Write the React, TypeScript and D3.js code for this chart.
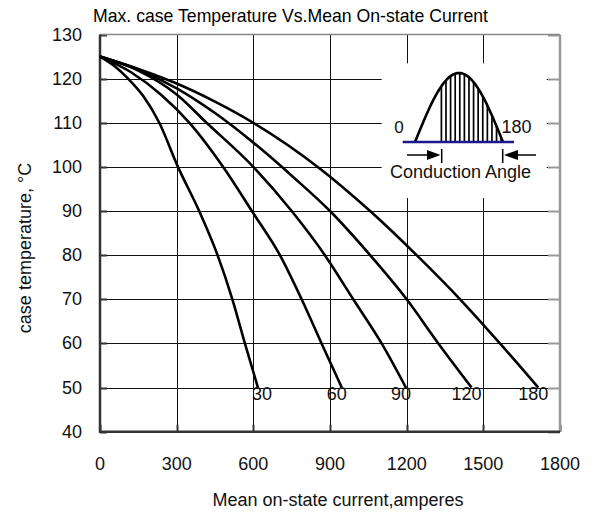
import React from 'react'
import * as d3 from 'd3'

// conduction angle curves: [current (A), case temperature (°C)]
const angles = ['30', '60', '90', '120', '180']
const curve30 = [[0, 125], [60, 122.7], [110, 120], [170, 116], [232, 110], [305, 100], [388, 90], [460, 80], [518, 70], [567, 60], [618, 50]]
const curve60 = [[0, 125], [120, 121.5], [240, 116.3], [350, 110], [482, 100], [600, 89.5], [704, 80], [789, 70], [867, 60], [946, 50]]
const curve90 = [[0, 125], [150, 121.8], [300, 116.4], [417, 110], [600, 100], [750, 90], [880, 80], [991, 70], [1102, 60], [1197, 50]]
const curve120 = [[0, 125], [150, 122], [300, 117.8], [450, 112.2], [600, 105.5], [760, 97.5], [900, 90], [1057, 80], [1200, 70], [1324, 60], [1454, 50]]
const curve180 = [[0, 125], [150, 122.2], [300, 118.9], [450, 114.8], [600, 110], [861, 99.6], [1057, 90], [1239, 80], [1409, 70], [1565, 60], [1715, 50]]
const curves = [curve30, curve60, curve90, curve120, curve180]

const xTicks = [0, 300, 600, 900, 1200, 1500, 1800]
const yTicks = [40, 50, 60, 70, 80, 90, 100, 110, 120, 130]

const W = 593, H = 513
const font = "'Liberation Sans', Arial, sans-serif"

export default function App() {
  const x = d3.scaleLinear().domain([0, 1800]).range([100, 560])
  const y = d3.scaleLinear().domain([40, 130]).range([431.7, 34.5])
  const line = d3.line<number[]>()
    .x(d => x(d[0]))
    .y(d => y(d[1]))
    .curve(d3.curveMonotoneX)

  // inset: half sine wave, origin at start of wave on baseline
  const ox = 415, oy = 142, sw = 88, sh = 69
  const sx = d3.scaleLinear().domain([0, 180]).range([0, sw])
  const sine = d3.line<number>()
    .x(t => sx(t))
    .y(t => -sh * Math.sin(t * Math.PI / 180))(d3.range(0, 181, 3))
  const hatch = d3.range(54, 180, 9.4)

  return (
    <svg width={W} height={H} style={{ position: 'absolute', left: 0, top: 0, background: '#fff' }}
      fontFamily={font}>
      <text x={93} y={21.5} fontSize={19} textLength={395} lengthAdjust="spacingAndGlyphs"
        fontFamily="'Liberation Sans Narrow', 'Liberation Sans', sans-serif">
        Max. case Temperature Vs.Mean On-state Current
      </text>

      {/* grid */}
      <g stroke="#111" strokeWidth={1}>
        {yTicks.slice(1, -1).map(t => (
          <line key={'h' + t} x1={x(0)} x2={x(1800)} y1={Math.round(y(t)) + 0.5} y2={Math.round(y(t)) + 0.5} />
        ))}
        {xTicks.slice(1, -1).map(t => (
          <line key={'v' + t} x1={Math.round(x(t)) + 0.5} x2={Math.round(x(t)) + 0.5} y1={y(130)} y2={y(40)} />
        ))}
      </g>
      {/* small ticks */}
      <g stroke="#333" strokeWidth={2}>
        {yTicks.map(t => (
          <line key={'tl' + t} x1={x(0)} x2={x(0) + 7} y1={Math.round(y(t)) + 0.5} y2={Math.round(y(t)) + 0.5} />
        ))}
        {xTicks.map(t => (
          <line key={'tb' + t} x1={Math.round(x(t)) + 0.5} x2={Math.round(x(t)) + 0.5} y1={y(40)} y2={y(40) - 7} />
        ))}
      </g>
      <g stroke="#999" strokeWidth={2}>
        {yTicks.map(t => (
          <line key={'tr' + t} x1={x(1800)} x2={x(1800) - 12} y1={Math.round(y(t)) + 0.5} y2={Math.round(y(t)) + 0.5} />
        ))}
      </g>

      {/* frame */}
      <line x1={x(0)} x2={x(1800)} y1={y(130)} y2={y(130)} stroke="#888" strokeWidth={1.5} />
      <line x1={x(1800)} x2={x(1800)} y1={y(130)} y2={y(40)} stroke="#999" strokeWidth={2.5} />
      <line x1={x(0)} x2={x(0)} y1={y(130)} y2={y(40) + 1} stroke="#333" strokeWidth={2.5} />
      <line x1={x(0) - 1} x2={x(1800)} y1={y(40)} y2={y(40)} stroke="#333" strokeWidth={2.5} />

      {/* tick labels */}
      <g fontSize={18} fill="#111">
        {yTicks.map(t => (
          <text key={'yl' + t} x={82} y={y(t)} textAnchor="end" dominantBaseline="central">{t}</text>
        ))}
        {xTicks.map(t => (
          <text key={'xl' + t} x={x(t)} y={470} textAnchor="middle">{t}</text>
        ))}
      </g>

      <text x={338} y={506} fontSize={18} textAnchor="middle" fill="#111">Mean on-state current,amperes</text>
      <text transform="translate(31,248) rotate(-90)" fontSize={18} textAnchor="middle" fill="#111">case temperature, °C</text>

      {/* curves */}
      <g fill="none" stroke="#000" strokeWidth={2.6} strokeLinejoin="round">
        {curves.map((c, i) => <path key={'c' + i} d={line(c as number[][]) || ''} />)}
      </g>
      <g fontSize={18} fill="#111" textAnchor="middle">
        {curves.map((c, i) => (
          <text key={'cl' + i} x={x(c[c.length - 1][0]) + (i === 0 ? 4 : -5)} y={400}>{angles[i]}</text>
        ))}
      </g>

      {/* inset */}
      <rect x={381.7} y={63.3} width={165} height={134.7} fill="#fff" />
      <g transform={`translate(${ox},${oy})`}>
        <g stroke="#000" strokeWidth={1.7}>
          {hatch.map(t => (
            <line key={'ht' + t} x1={sx(t)} x2={sx(t)} y1={0} y2={-sh * Math.sin(t * Math.PI / 180)} />
          ))}
        </g>
        <path d={sine || ''} fill="none" stroke="#000" strokeWidth={2.6} />
        <line x1={-12.3} x2={99} y1={0} y2={0} stroke="#1a1a8a" strokeWidth={2.5} />
        <text x={-16} y={-9.3} fontSize={17} textAnchor="middle" fill="#111">0</text>
        <text x={86.5} y={-9.3} fontSize={18} fill="#111">180</text>
        <g stroke="#000" strokeWidth={1.5}>
          <line x1={-8} x2={14} y1={13} y2={13} />
          <line x1={26.7} x2={26.7} y1={7} y2={21} />
          <line x1={87.7} x2={87.7} y1={7} y2={21} />
          <line x1={102} x2={121} y1={13} y2={13} />
        </g>
        <path d="M12,8 L25.5,13 L12,18 Z" fill="#000" />
        <path d="M103,8 L89,13 L103,18 Z" fill="#000" />
        <text x={45.5} y={36.3} fontSize={18} textAnchor="middle" fill="#111">Conduction Angle</text>
      </g>
    </svg>
  )
}
